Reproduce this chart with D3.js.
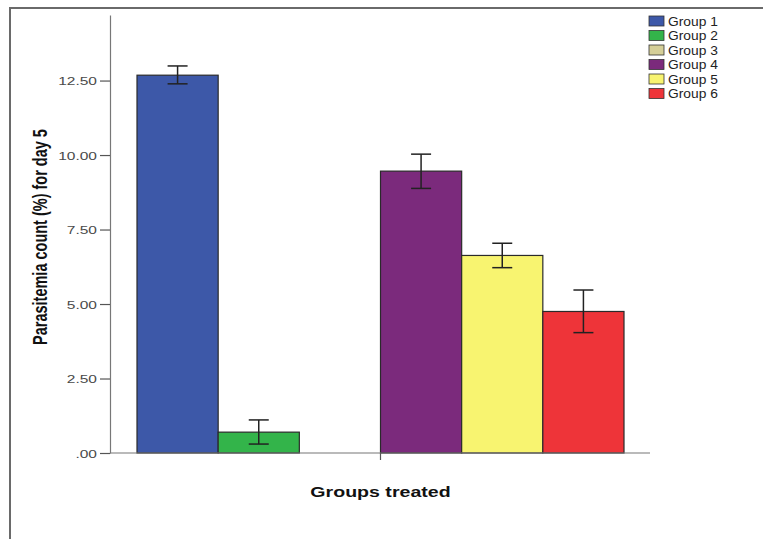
<!DOCTYPE html>
<html>
<head>
<meta charset="utf-8">
<script src="https://cdn.jsdelivr.net/npm/d3@7"></script>
<style>
  html, body { margin: 0; padding: 0; background: #fff; }
  svg { display: block; font-family: "Liberation Sans", Arial, sans-serif; }
</style>
</head>
<body>
<svg id="chart" width="763" height="539"></svg>
<script>
// Parasitemia on day 5 per treatment group (mean with error bar limits)
const groups = ["Group 1", "Group 2", "Group 3", "Group 4", "Group 5", "Group 6"];
const colors = ["#3d58a8", "#33b44a", "#d5cf98", "#7b2a7c", "#f8f470", "#ee3439"];
const means  = [12.68, 0.70, null, 9.46, 6.63, 4.75];
const errLow = [12.39, 0.30, null, 8.88, 6.22, 4.04];
const errHigh = [12.99, 1.11, null, 10.03, 7.04, 5.47];
const yTicks = [0, 2.5, 5, 7.5, 10, 12.5];
const yTitle = "Parasitemia count (%) for day 5";
const xTitle = "Groups treated";

const svg = d3.select("#chart");
const stretch = 1.35; // horizontal text stretch

const y = d3.scaleLinear().domain([0, 14.7]).range([453, 15]);
const x = d3.scaleBand().domain(groups).range([137, 624]).paddingInner(0).paddingOuter(0);
const axisLeft = 110, axisRight = 650;

// outer frame
svg.append("path")
  .attr("d", "M10,539 V8 H763")
  .attr("fill", "none").attr("stroke", "#6a6a6a").attr("stroke-width", 2);

// bars
const rows = groups.map((g, i) => ({ g, c: colors[i], m: means[i], lo: errLow[i], hi: errHigh[i] }))
  .filter(d => d.m != null);

svg.append("g").selectAll("rect").data(rows).join("rect")
  .attr("x", d => x(d.g))
  .attr("y", d => y(d.m))
  .attr("width", x.bandwidth())
  .attr("height", d => y(0) - y(d.m))
  .attr("fill", d => d.c)
  .attr("stroke", "#2a2a2a").attr("stroke-width", 1.2);

// error bars
const eb = svg.append("g").attr("stroke", "#222").attr("stroke-width", 1.5);
rows.forEach(d => {
  const cx = x(d.g) + x.bandwidth() / 2;
  eb.append("line").attr("x1", cx).attr("x2", cx).attr("y1", y(d.hi)).attr("y2", y(d.lo));
  eb.append("line").attr("x1", cx - 10).attr("x2", cx + 10).attr("y1", y(d.hi)).attr("y2", y(d.hi));
  eb.append("line").attr("x1", cx - 10).attr("x2", cx + 10).attr("y1", y(d.lo)).attr("y2", y(d.lo));
});

// y axis
const yAxis = d3.axisLeft(y).tickValues(yTicks).tickSize(10).tickSizeOuter(0)
  .tickFormat(v => d3.format(".2f")(v).replace(/^0\./, "."));
const gy = svg.append("g").attr("transform", `translate(${axisLeft},0)`).call(yAxis);
gy.select(".domain").attr("stroke", "#777").attr("stroke-width", 1.2);
gy.selectAll(".tick line").attr("stroke", "#555").attr("stroke-width", 1.2);
gy.selectAll(".tick text")
  .attr("fill", "#4a4a4a").attr("font-size", 11.5)
  .attr("x", 0).attr("dy", "0.35em")
  .attr("text-anchor", "end")
  .attr("transform", `translate(-13,0) scale(${stretch},1)`);

// x axis baseline and center tick
svg.append("line").attr("x1", axisLeft).attr("x2", axisRight).attr("y1", y(0)).attr("y2", y(0))
  .attr("stroke", "#777").attr("stroke-width", 1.2);
const xMid = (x.range()[0] + x.range()[1]) / 2;
svg.append("line").attr("x1", xMid).attr("x2", xMid).attr("y1", y(0)).attr("y2", y(0) + 7)
  .attr("stroke", "#555").attr("stroke-width", 1.2);

// axis titles
svg.append("text")
  .attr("transform", `translate(${xMid},497) scale(${stretch},1)`)
  .attr("text-anchor", "middle").attr("font-weight", "bold").attr("font-size", 14.5)
  .attr("fill", "#111").text(xTitle);

svg.append("text")
  .attr("transform", `translate(47,237) scale(${stretch},1) rotate(-90)`)
  .attr("text-anchor", "middle").attr("font-weight", "bold").attr("font-size", 14.5)
  .attr("fill", "#111").text(yTitle);

// legend
const lg = svg.append("g").attr("transform", "translate(649,16)");
const item = lg.selectAll("g").data(groups).join("g")
  .attr("transform", (d, i) => `translate(0,${i * 14.5})`);
item.append("rect").attr("width", 15).attr("height", 10)
  .attr("fill", (d, i) => colors[i]).attr("stroke", "#333").attr("stroke-width", 0.8);
item.append("text").attr("transform", `translate(19,5.5) scale(1.15,1)`)
  .attr("dy", "0.36em").attr("font-size", 12).attr("fill", "#222").text(d => d);
</script>
</body>
</html>
